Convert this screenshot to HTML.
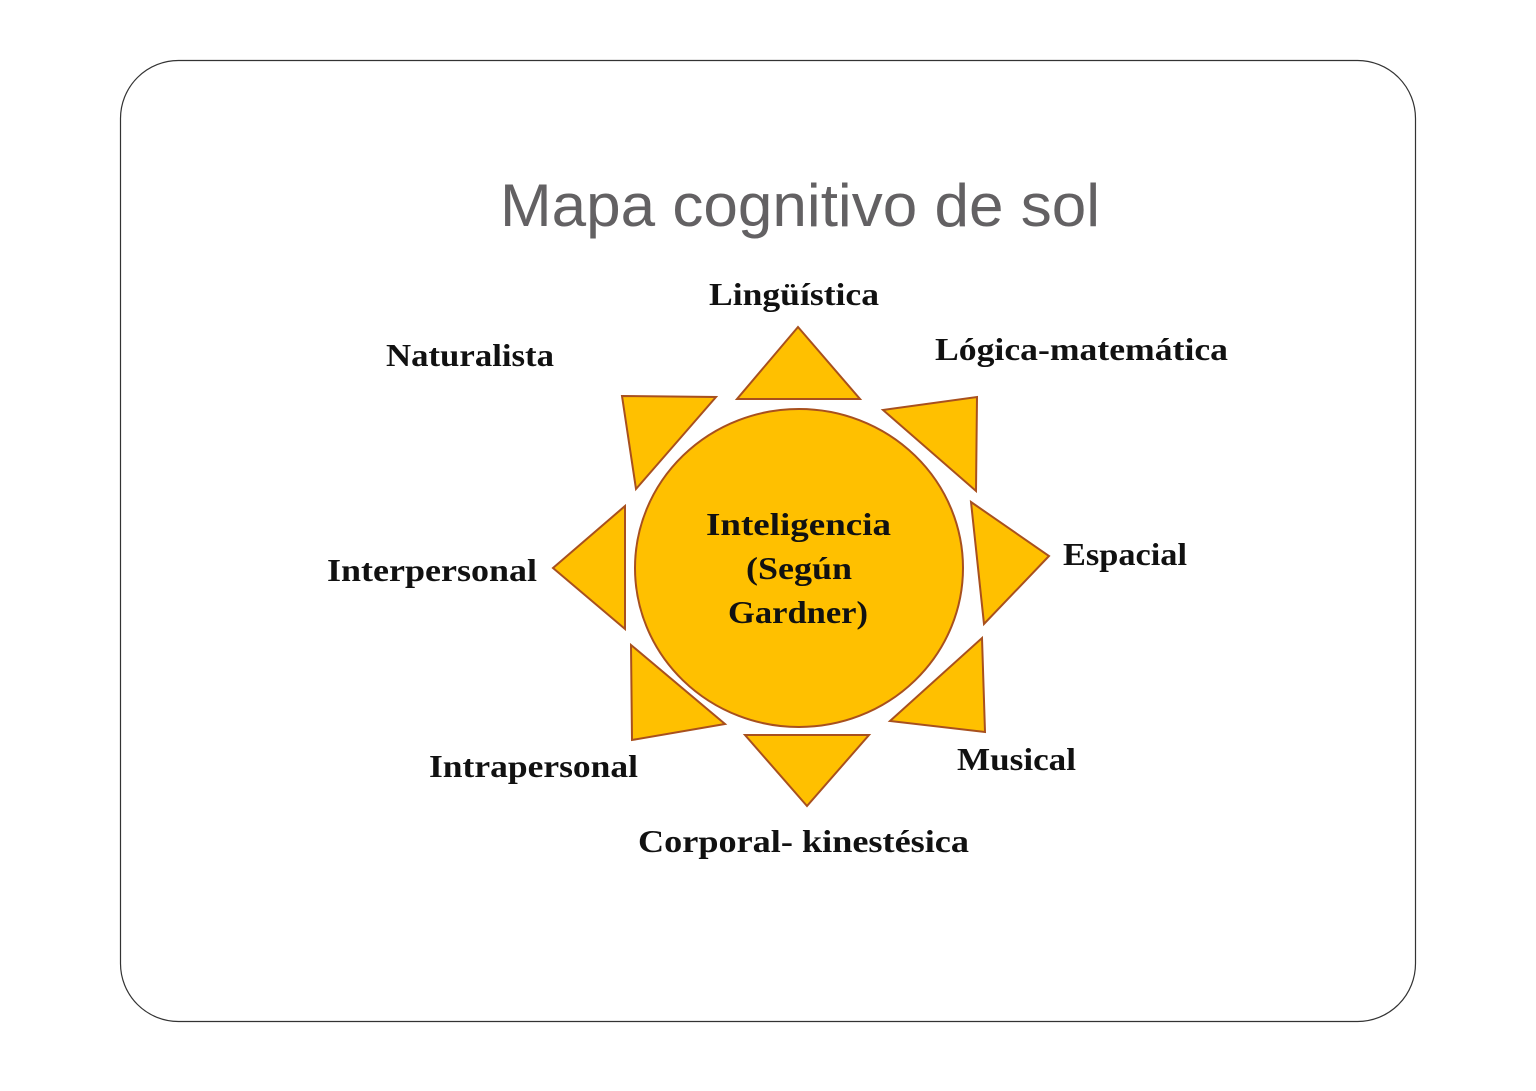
<!DOCTYPE html>
<html><head><meta charset="utf-8"><style>
html,body{margin:0;padding:0;background:#fff;}
body{width:1536px;height:1086px;overflow:hidden;}
</style></head><body>
<svg width="1536" height="1086" viewBox="0 0 1536 1086" xmlns="http://www.w3.org/2000/svg">
<rect x="120.5" y="60.5" width="1295" height="961" rx="58" ry="58" fill="#fff" stroke="#333" stroke-width="1.2"/>
<text x="500" y="226" textLength="600" lengthAdjust="spacingAndGlyphs" font-family="Liberation Sans, sans-serif" font-size="60" fill="#636163">Mapa cognitivo de sol</text>
<g fill="#FFC000" stroke="#A8501E" stroke-width="2" stroke-linejoin="miter">
<ellipse cx="799" cy="568" rx="164" ry="159"/>
<polygon points="798,327 737,399 860,399"/>
<polygon points="622,396 716,397 636,489"/>
<polygon points="883,410 977,397 976,491"/>
<polygon points="971,502 1049,556 984,624"/>
<polygon points="625,506 553,568 625,629"/>
<polygon points="631,645 725,724 632,740"/>
<polygon points="890,721 982,638 985,732"/>
<polygon points="745,735 869,735 807,806"/>
</g>
<g font-family="Liberation Serif, serif" font-weight="bold" font-size="32" fill="#111" lengthAdjust="spacingAndGlyphs">
<text x="709" y="305" textLength="170" lengthAdjust="spacingAndGlyphs">Lingüística</text>
<text x="386" y="366" textLength="168" lengthAdjust="spacingAndGlyphs">Naturalista</text>
<text x="935" y="360" textLength="293" lengthAdjust="spacingAndGlyphs">Lógica-matemática</text>
<text x="1063" y="565" textLength="124" lengthAdjust="spacingAndGlyphs">Espacial</text>
<text x="327" y="581" textLength="210" lengthAdjust="spacingAndGlyphs">Interpersonal</text>
<text x="429" y="777" textLength="209" lengthAdjust="spacingAndGlyphs">Intrapersonal</text>
<text x="957" y="770" textLength="119" lengthAdjust="spacingAndGlyphs">Musical</text>
<text x="638" y="852" textLength="331" lengthAdjust="spacingAndGlyphs">Corporal- kinestésica</text>
<text x="706" y="535" textLength="185" lengthAdjust="spacingAndGlyphs">Inteligencia</text>
<text x="746" y="579" textLength="106" lengthAdjust="spacingAndGlyphs">(Según</text>
<text x="728" y="623" textLength="140" lengthAdjust="spacingAndGlyphs">Gardner)</text>
</g>
</svg>
</body></html>
